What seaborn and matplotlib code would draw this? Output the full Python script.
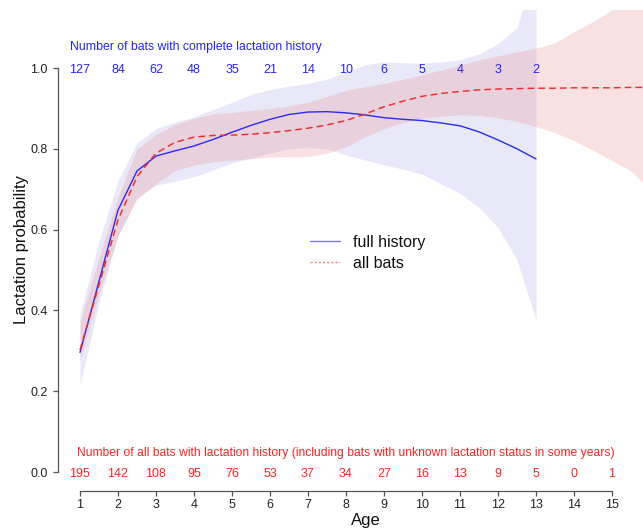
import matplotlib
matplotlib.use("Agg")
import matplotlib.pyplot as plt
from matplotlib.lines import Line2D
import seaborn as sns
import pandas as pd

# ---------------- data ----------------
ages_full = [1, 1.5, 2, 2.5, 3, 3.5, 4, 4.5, 5, 5.5, 6, 6.5, 7, 7.5, 8, 8.5,
             9, 9.5, 10, 10.5, 11, 11.5, 12, 12.5, 13]
prob_full = [0.296, 0.472, 0.648, 0.745, 0.782, 0.795, 0.807, 0.823, 0.841, 0.858,
             0.873, 0.885, 0.891, 0.892, 0.889, 0.884, 0.877, 0.873, 0.870, 0.864,
             0.857, 0.842, 0.822, 0.800, 0.775]
upper_full = [0.39, 0.57, 0.72, 0.815, 0.85, 0.866, 0.879, 0.897, 0.915, 0.935,
              0.947, 0.955, 0.962, 0.972, 0.99, 1.008, 1.015, 1.013, 1.012, 1.015,
              1.02, 1.035, 1.06, 1.10, 1.25]
lower_full = [0.215, 0.42, 0.585, 0.68, 0.71, 0.72, 0.731, 0.748, 0.765, 0.777,
              0.79, 0.80, 0.803, 0.80, 0.785, 0.772, 0.76, 0.75, 0.737, 0.713,
              0.69, 0.655, 0.605, 0.525, 0.376]

ages_all = [1, 1.5, 2, 2.5, 3, 3.5, 4, 4.5, 5, 5.5, 6, 6.5, 7, 7.5, 8, 8.5,
            9, 9.5, 10, 10.5, 11, 11.5, 12, 12.5, 13, 13.5, 14, 14.5, 15, 15.5, 16]
prob_all = [0.302, 0.463, 0.624, 0.731, 0.789, 0.816, 0.829, 0.833, 0.834, 0.836,
            0.840, 0.845, 0.851, 0.859, 0.870, 0.886, 0.904, 0.918, 0.930, 0.937,
            0.942, 0.946, 0.948, 0.949, 0.950, 0.950, 0.951, 0.951, 0.951, 0.952, 0.952]
upper_all = [0.372, 0.53, 0.68, 0.80, 0.835, 0.86, 0.875, 0.886, 0.89, 0.895,
             0.90, 0.906, 0.915, 0.93, 0.945, 0.953, 0.962, 0.972, 0.983, 0.995,
             1.007, 1.02, 1.03, 1.04, 1.049, 1.062, 1.09, 1.115, 1.144, 1.18, 1.22]
lower_all = [0.277, 0.44, 0.585, 0.675, 0.714, 0.746, 0.76, 0.768, 0.772, 0.776,
             0.779, 0.78, 0.781, 0.789, 0.805, 0.83, 0.85, 0.865, 0.876, 0.881,
             0.884, 0.883, 0.877, 0.868, 0.855, 0.84, 0.82, 0.797, 0.771, 0.745, 0.70]

count_ages_full = list(range(1, 14))
counts_full = [127, 84, 62, 48, 35, 21, 14, 10, 6, 5, 4, 3, 2]
count_ages_all = list(range(1, 16))
counts_all = [195, 142, 108, 95, 76, 53, 37, 34, 27, 16, 13, 9, 5, 0, 1]

x_ticks = list(range(1, 16))
y_ticks = [0.0, 0.2, 0.4, 0.6, 0.8, 1.0]
y_tick_labels = ["0.0", "0.2", "0.4", "0.6", "0.8", "1.0"]

title_full = "Number of bats with complete lactation history"
title_all = ("Number of all bats with lactation history (including bats with "
             "unknown lactation status in some years)")
legend_labels = ["full history", "all bats"]

# ---------------- style ----------------
sns.set_theme(style="white")
plt.rcParams["font.family"] = ["Liberation Sans", "DejaVu Sans"]

BLUE = "#2b2bf0"
RED = "#f02b2b"
BLUE_TXT = "#2424ff"
RED_TXT = "#ff2424"

W, H = 643, 531
fig = plt.figure(figsize=(W / 100, H / 100), dpi=100)
ax = fig.add_axes([0, 0, 1, (H - 10) / H])
ax.set_xlim(-1.105, 15.816)
ax.set_ylim(-0.146, 1.1436)
ax.patch.set_alpha(0)

df_full = pd.DataFrame({"age": ages_full, "p": prob_full,
                        "lo": lower_full, "hi": upper_full})
df_all = pd.DataFrame({"age": ages_all, "p": prob_all,
                       "lo": lower_all, "hi": upper_all})

# confidence bands
ax.fill_between(df_full["age"], df_full["lo"], df_full["hi"],
                color=(0.80, 0.80, 0.95), alpha=0.45, linewidth=0, zorder=1)
ax.fill_between(df_all["age"], df_all["lo"], df_all["hi"],
                color=(0.93, 0.60, 0.62), alpha=0.30, linewidth=0, zorder=2)

# lines
sns.lineplot(data=df_full, x="age", y="p", ax=ax, color=BLUE, linewidth=1.0,
             sort=True, estimator=None, zorder=3)
sns.lineplot(data=df_all, x="age", y="p", ax=ax, color=RED, linewidth=1.05,
             sort=True, estimator=None, zorder=4, dashes=False,
             linestyle=(0, (4.6, 2.8)))
ax.set_xlabel("")
ax.set_ylabel("")

# axes in R style
for s in ["top", "right"]:
    ax.spines[s].set_visible(False)
ax.spines["left"].set_position(("data", 0.421))
ax.spines["left"].set_bounds(0, 1)
ax.spines["bottom"].set_position(("data", -0.047))
ax.spines["bottom"].set_bounds(1, 15)
for s in ["left", "bottom"]:
    ax.spines[s].set_color("#555555")
    ax.spines[s].set_linewidth(0.9)

ax.set_yticks(y_ticks)
ax.set_yticklabels(y_tick_labels)
ax.set_xticks(x_ticks)
ax.set_xticklabels([str(t) for t in x_ticks])
ax.tick_params(axis="y", direction="out", length=3.8, width=0.9, pad=3.5,
               colors="#555555", labelcolor="#222222", labelsize=9, left=True)
ax.tick_params(axis="x", direction="out", length=3.8, width=0.9, pad=1.8,
               colors="#555555", labelcolor="#222222", labelsize=9, bottom=True)

# count annotations
for a, c in zip(count_ages_full, counts_full):
    ax.text(a, 1.0, str(c), color=BLUE_TXT, fontsize=9, ha="center",
            va="center_baseline")
for a, c in zip(count_ages_all, counts_all):
    ax.text(a, 0.0, str(c), color=RED_TXT, fontsize=9, ha="center",
            va="center_baseline")
ax.text(4.05, 1.055, title_full, color=BLUE_TXT, fontsize=8.8, ha="center",
        va="center_baseline")
ax.text(8.0, 0.05, title_all, color=RED_TXT, fontsize=8.7, ha="center",
        va="center_baseline")

# axis labels
fig.text(22 / W, 1 - 250 / H, "Lactation probability", rotation=90,
         ha="center", va="center", fontsize=12, color="#111111")
fig.text(366 / W, 1 - 520 / H, "Age", ha="center", va="center",
         fontsize=12, color="#111111")

# legend
handles = [Line2D([], [], color="#7a7aff", linewidth=1.0),
           Line2D([], [], color="#ff7a7a", linewidth=1.0, linestyle=(0, (1.5, 1.5)))]
leg = ax.legend(handles, legend_labels, loc="upper left",
                bbox_to_anchor=(310 / W, 1 - 235 / H), bbox_transform=fig.transFigure,
                frameon=False, fontsize=11.5, handlelength=1.9, handletextpad=0.8,
                borderpad=0, borderaxespad=0, labelspacing=0.35)
for t in leg.get_texts():
    t.set_color("#111111")

fig.savefig("out.png", dpi=100)
